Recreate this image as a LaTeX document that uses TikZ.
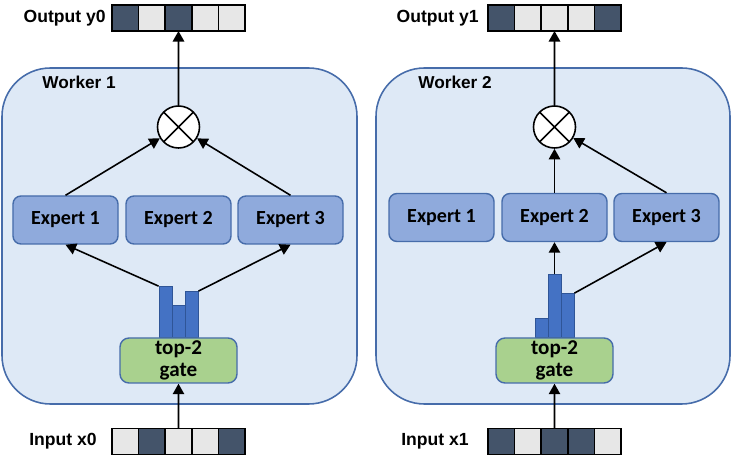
\documentclass[tikz,border=0pt]{standalone}
\usepackage{fontspec}
\setmainfont{Liberation Sans}
\newfontfamily\califont{Carlito}
\usepackage{xcolor}
\usepackage{tikz}
\usetikzlibrary{arrows.meta,positioning}

\definecolor{workerfill}{RGB}{222,233,246}
\definecolor{workerline}{RGB}{70,108,170}
\definecolor{expertfill}{RGB}{143,170,220}
\definecolor{gatefill}{RGB}{169,209,142}
\definecolor{barfill}{RGB}{68,114,196}
\definecolor{barline}{RGB}{47,85,151}
\definecolor{cellon}{RGB}{68,84,106}
\definecolor{celloff}{RGB}{231,231,231}

\begin{document}
\begin{tikzpicture}[
    worker/.style={draw=workerline, fill=workerfill, line width=0.9pt,
                   rounded corners=0.97cm},
    expert/.style={draw=workerline, fill=expertfill, line width=0.8pt,
                   rounded corners=0.16cm, minimum width=2.1cm, minimum height=0.96cm,
                   font=\califont\bfseries\fontsize{11.4}{13}\selectfont},
    gate/.style={draw=workerline, fill=gatefill, line width=0.8pt,
                 rounded corners=0.18cm, minimum width=2.34cm, minimum height=0.9cm,
                 inner sep=0pt, align=center,
                 font=\califont\bfseries\fontsize{12}{12.5}\selectfont},
    gatebar/.style={draw=barline, fill=barfill, line width=0.5pt, anchor=south,
                    minimum width=0.26cm, inner sep=0pt},
    mixer/.style={circle, draw, fill=white, line width=0.9pt, minimum size=0.84cm,
                  inner sep=0pt,
                  path picture={\draw[line width=0.9pt]
                      (path picture bounding box.north west) -- (path picture bounding box.south east)
                      (path picture bounding box.north east) -- (path picture bounding box.south west);}},
    cellbox/.style={draw, line width=1pt, minimum width=0.532cm, minimum height=0.52cm,
                    inner sep=0pt, outer sep=0pt},
    on/.style={cellbox, fill=cellon},
    off/.style={cellbox, fill=celloff},
    lbl/.style={font=\bfseries\fontsize{10}{12}\selectfont, anchor=east, inner sep=0pt},
    title/.style={font=\bfseries\fontsize{9.8}{11}\selectfont, anchor=west, inner sep=0pt},
    arr/.style={-{Triangle[length=6pt,width=6.5pt]}, line width=0.9pt}
]
\useasboundingbox (0,0) rectangle (14.64,9.3);

% Worker 1
\node[worker, minimum width=7.1cm, minimum height=6.72cm] (w1) at (3.59, 4.58) {};
\node[title] (t1) at (0.84, 7.66) {Worker 1};
\node[mixer] (m1) at (3.57, 6.76) {};
\node[expert] (e11) at (1.31, 4.9) {Expert 1};
\node[expert] (e12) at (3.57, 4.9) {Expert 2};
\node[expert] (e13) at (5.81, 4.9) {Expert 3};
\node[gatebar, minimum height=1.02cm] (b11) at (3.31, 2.54) {};
\node[gatebar, minimum height=0.64cm] (b12) at (3.57, 2.54) {};
\node[gatebar, minimum height=0.92cm] (b13) at (3.83, 2.54) {};
\node[gate] (g1) at (3.57, 2.09) {top-2\\gate};
\draw[arr] (b11.north west) -- (e11.south);
\draw[arr] (b13.north east) -- (e13.south);
\draw[arr] (e11.north) -- (m1);
\draw[arr] (e13.north) -- (m1);

% Worker 2
\node[worker, minimum width=7.08cm, minimum height=6.72cm] (w2) at (11.06, 4.58) {};
\node[title] (t2) at (8.36, 7.66) {Worker 2};
\node[mixer] (m2) at (11.09, 6.76) {};
\node[expert] (e21) at (8.83, 4.95) {Expert 1};
\node[expert] (e22) at (11.09, 4.95) {Expert 2};
\node[expert] (e23) at (13.33, 4.95) {Expert 3};
\node[gatebar, minimum height=0.38cm] (b21) at (10.83, 2.54) {};
\node[gatebar, minimum height=1.26cm] (b22) at (11.09, 2.54) {};
\node[gatebar, minimum height=0.88cm] (b23) at (11.35, 2.54) {};
\node[gate] (g2) at (11.09, 2.09) {top-2\\gate};
\draw[arr] (b22.north) -- (e22.south);
\draw[arr] (b23.north east) -- (e23.south);
\draw[arr] (e22.north) -- (m2);
\draw[arr] (e23.north) -- (m2);

% Output vectors
\node[lbl] (ly0) at (2.12, 8.94) {Output y0};
\node[on]  (y01) at (2.506, 8.94) {};
\node[off, right=0pt of y01] (y02) {};
\node[on,  right=0pt of y02] (y03) {};
\node[off, right=0pt of y03] (y04) {};
\node[off, right=0pt of y04] (y05) {};
\draw[arr] (m1) -- (y03.south);

\node[lbl] (ly1) at (9.58, 8.94) {Output y1};
\node[on]  (y11) at (10.026, 8.94) {};
\node[off, right=0pt of y11] (y12) {};
\node[off, right=0pt of y12] (y13) {};
\node[off, right=0pt of y13] (y14) {};
\node[on,  right=0pt of y14] (y15) {};
\draw[arr] (m2) -- (y13.south);

% Input vectors
\node[lbl] (lx0) at (1.94, 0.47) {Input x0};
\node[off] (x01) at (2.506, 0.47) {};
\node[on,  right=0pt of x01] (x02) {};
\node[off, right=0pt of x02] (x03) {};
\node[off, right=0pt of x03] (x04) {};
\node[on,  right=0pt of x04] (x05) {};
\draw[arr] (x03.north) -- (g1.south);

\node[lbl] (lx1) at (9.38, 0.47) {Input x1};
\node[on]  (x11) at (10.026, 0.47) {};
\node[off, right=0pt of x11] (x12) {};
\node[on,  right=0pt of x12] (x13) {};
\node[on,  right=0pt of x13] (x14) {};
\node[off, right=0pt of x14] (x15) {};
\draw[arr] (x13.north) -- (g2.south);
\end{tikzpicture}
\end{document}
